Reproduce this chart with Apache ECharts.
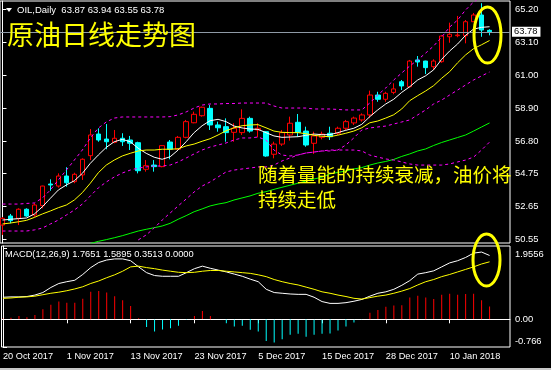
<!DOCTYPE html>
<html><head><meta charset="utf-8">
<script src="https://cdn.jsdelivr.net/npm/echarts@6/dist/echarts.min.js"></script>
<style>html,body{margin:0;padding:0;background:#000;overflow:hidden}#c{width:551px;height:370px}</style>
</head><body><div id="c"></div>
<script>
const dates = ['20 Oct 2017','23 Oct 2017','24 Oct 2017','25 Oct 2017','26 Oct 2017','27 Oct 2017','30 Oct 2017','31 Oct 2017',
'1 Nov 2017','2 Nov 2017','3 Nov 2017','6 Nov 2017','7 Nov 2017','8 Nov 2017','9 Nov 2017','10 Nov 2017',
'13 Nov 2017','14 Nov 2017','15 Nov 2017','16 Nov 2017','17 Nov 2017','20 Nov 2017','21 Nov 2017','22 Nov 2017',
'23 Nov 2017','24 Nov 2017','27 Nov 2017','28 Nov 2017','29 Nov 2017','30 Nov 2017','1 Dec 2017','4 Dec 2017',
'5 Dec 2017','6 Dec 2017','7 Dec 2017','8 Dec 2017','11 Dec 2017','12 Dec 2017','13 Dec 2017','14 Dec 2017',
'15 Dec 2017','18 Dec 2017','19 Dec 2017','20 Dec 2017','21 Dec 2017','22 Dec 2017','26 Dec 2017','27 Dec 2017',
'28 Dec 2017','29 Dec 2017','2 Jan 2018','3 Jan 2018','4 Jan 2018','5 Jan 2018','8 Jan 2018','9 Jan 2018',
'10 Jan 2018','11 Jan 2018','12 Jan 2018','15 Jan 2018','16 Jan 2018','17 Jan 2018'];
const tickLabels = ['20 Oct 2017','1 Nov 2017','13 Nov 2017','23 Nov 2017','5 Dec 2017','15 Dec 2017','28 Dec 2017','10 Jan 2018'];

const opens = [51.44,52.02,51.87,52.45,52.08,52.68,54.06,53.93, 54.57,54.21,54.64,55.87,57.25,56.93,56.72,56.98,
56.87,56.70,55.00,55.27,55.17,56.74,56.28,57.04, 57.97,58.42,58.89,57.83,57.72,57.36,57.34,58.25,
57.51,57.40,55.96,56.61,57.19,58.00,57.44,56.66, 57.04,57.30,57.30,57.62,57.96,58.15,58.47,59.74,
59.47,59.91,60.59,60.27,61.98,61.91,61.55,61.87, 63.46,63.53,63.53,64.42,64.85,63.87];
const closes = [51.87,51.72,52.45,52.02,52.72,53.93,54.00,54.57, 54.14,54.68,55.64,57.19,56.87,56.76,56.98,56.76,
56.66,54.91,55.23,55.17,56.51,56.28,57.04,58.04, 58.51,58.96,57.83,57.65,57.34,57.62,58.25,57.44,
57.62,55.85,56.61,57.34,57.94,57.36,56.55,57.13, 57.25,57.08,57.62,58.04,58.27,58.47,59.74,59.47,
59.85,60.13,60.32,61.91,61.85,61.49,61.91,63.51, 63.62,63.57,64.42,64.85,63.89,63.78];
const lows = [50.81,51.55,51.44,51.97,51.97,52.51,53.63,53.83, 53.89,54.11,54.32,55.59,56.76,56.28,56.66,56.49,
56.23,54.74,54.85,54.85,55.13,55.64,56.23,56.98, 57.94,58.36,57.51,57.40,56.76,56.76,57.19,57.34,
57.04,55.80,55.70,56.49,56.83,57.08,56.44,55.98, 56.91,56.87,57.19,57.51,57.83,58.04,58.27,59.31,
59.31,59.79,60.06,60.23,61.55,61.08,61.34,61.80, 63.08,63.43,63.04,64.40,63.46,63.55];
const highs = [51.95,52.15,52.51,52.51,52.83,53.95,54.36,54.74, 55.13,54.78,55.70,57.57,57.62,57.89,57.51,57.30,
57.13,56.76,55.59,55.59,56.55,56.87,57.13,58.15, 58.68,59.00,59.10,58.04,58.25,57.94,58.83,58.36,
57.94,57.44,56.76,57.51,58.36,58.53,57.72,57.40, 57.40,57.72,57.72,58.15,58.36,58.57,60.02,59.95,
59.95,60.49,60.70,61.98,62.23,61.93,62.02,63.57, 64.36,64.79,64.53,64.98,65.60,63.94];

const ma5 = [51.76,51.81,51.85,51.89,52.15,52.61,53.15,53.68, 54.00,54.27,54.74,55.38,55.91,56.40,56.76,56.91,
56.76,56.34,56.02,55.77,55.64,55.80,56.23,56.76, 57.34,57.78,58.10,58.19,58.04,57.76,57.64,57.57,
57.55,57.34,57.13,57.04,57.06,57.08,57.17,57.25, 57.21,57.21,57.34,57.49,57.62,57.87,58.36,58.79,
59.17,59.47,59.91,60.27,60.70,60.97,61.35,62.02, 62.55,63.00,63.55,63.95,64.06,64.10];
const ma10 = [51.51,51.57,51.65,51.74,51.93,52.15,52.34,52.55, 52.72,53.04,53.51,54.11,54.78,55.27,55.59,55.85,
56.02,56.17,56.23,56.23,56.28,56.28,56.31,56.49, 56.61,56.79,56.95,57.19,57.46,57.65,57.78,57.83,
57.85,57.65,57.44,57.36,57.34,57.34,57.27,57.17, 57.11,57.08,57.18,57.30,57.44,57.65,57.97,58.08,
58.27,58.48,58.85,59.38,59.70,60.00,60.34,60.81, 61.23,61.80,62.30,62.70,62.95,63.22];
const ma60 = [null,null,null,null,null,null,null,null,null,null,null,50.26,50.40,
50.51,50.63,50.76,50.91,51.06,51.17,51.27,51.38,51.55,51.81,
52.04,52.29,52.47,52.66,52.78,52.87,53.04,53.17,53.30,53.47,
53.57,53.72,53.85,53.98,54.11,54.25,54.38,54.49,54.70,54.80,
54.89,55.02,55.11,55.27,55.40,55.50,55.63,55.82,55.98,56.17,
56.30,56.52,56.71,56.87,57.03,57.19,57.44,57.70,57.96];
const bandUpper = [52.78,52.78,52.78,52.82,52.85,53.17,53.68,54.32, 54.95,55.59,56.23,56.99,57.63,58.02,58.27,58.34,
58.34,58.34,58.34,58.34,58.34,58.36,58.47,58.66, 58.91,59.10,59.17,59.17,59.20,59.20,59.23,59.23,
59.23,59.23,59.04,58.91,58.91,58.91,58.91,58.85, 58.85,58.85,58.82,58.79,58.79,58.79,59.23,59.74,
60.19,60.70,61.15,61.59,61.98,62.42,62.87,63.44, 64.08,64.53,65.17,65.68,66.00,66.10];
const bandLowerA = [51.06,51.06,51.06,51.06,51.13,51.25,51.51,51.76, 52.08,52.40,52.78,53.30,53.81,54.19,54.51,54.76,
54.95,55.08,55.15,55.21,55.21,55.27,55.47,55.72, 55.98,56.23,56.42,56.55,56.68,56.87,57.00,57.00,
57.06,56.87,56.23,55.91,55.85,55.91,56.04,56.10, 56.17,56.23,56.23,56.55,57.00,57.51,57.64,57.70,
57.76,57.89,58.02,58.15,58.47,58.79,59.17,59.42, 59.74,60.06,60.38,60.70,60.96,61.21];
const bandLowerB = [null,null,null,null,null,null,null,null,null,null,null,null,null,null,null,null,null,
50.49,50.81,51.25,51.76,52.21,52.66,53.10, 53.55,53.93,54.19,54.51,54.83,54.95,55.02,55.08,
55.15,55.15,55.27,55.53,55.72,55.91,56.04,56.10, 56.17,56.17,56.23,56.23,56.23,56.17,55.91,55.78,
55.66,55.59,55.47,55.34,55.27,55.27,55.27,55.27, 55.34,55.47,55.59,55.78,56.23,56.74];

const macdLine = [0.61,0.62,0.62,0.63,0.67,0.74,0.88,0.99, 1.04,1.08,1.24,1.43,1.57,1.64,1.67,1.67,
1.62,1.45,1.29,1.21,1.19,1.19,1.19,1.29, 1.40,1.47,1.41,1.36,1.31,1.25,1.19,1.11,
1.04,0.83,0.74,0.72,0.70,0.69,0.69,0.61, 0.49,0.44,0.44,0.46,0.50,0.55,0.64,0.72,
0.76,0.83,0.94,1.07,1.25,1.29,1.34,1.45, 1.56,1.62,1.71,1.83,1.86,1.7651];
const signalLine = [0.58,0.59,0.61,0.62,0.64,0.68,0.72,0.75, 0.79,0.84,0.90,0.99,1.06,1.15,1.23,1.33,
1.45,1.47,1.43,1.40,1.36,1.33,1.30,1.29, 1.30,1.33,1.35,1.35,1.33,1.31,1.29,1.27,
1.23,1.18,1.10,1.04,0.99,0.95,0.89,0.83, 0.76,0.72,0.67,0.63,0.58,0.56,0.60,0.64,
0.67,0.72,0.78,0.85,0.95,1.04,1.10,1.18, 1.24,1.31,1.38,1.45,1.53,1.5895];
const macdHist = [0.02,0.04,0.09,0.06,0.12,0.28,0.40,0.49, 0.46,0.46,0.57,0.76,0.78,0.74,0.64,0.53,
0.37,0.03,-0.21,-0.34,-0.28,-0.25,-0.18,-0.02, 0.09,0.23,0.09,0.005,-0.11,-0.20,-0.18,-0.29,
-0.34,-0.60,-0.64,-0.55,-0.43,-0.40,-0.48,-0.43, -0.40,-0.39,-0.31,-0.20,-0.09,-0.02,0.18,0.26,
0.35,0.38,0.39,0.60,0.65,0.60,0.56,0.68, 0.71,0.68,0.70,0.71,0.53,0.3513];

const priceTicks = [65.20,63.10,61.00,58.90,56.80,54.75,52.65,50.55];
const macdTicks = [1.9556,0,-0.766];
const lastPrice = 63.78;
const headerText = 'OIL,Daily  63.87 63.94 63.55 63.78';
const macdText = 'MACD(12,26,9) 1.7651 1.5895 0.3513 0.0000';
const titleText = '原油日线走势图';
const noteLine1 = '随着量能的持续衰减，油价将';
const noteLine2 = '持续走低';

const font = 'Liberation Sans, Arial, sans-serif';
const cjk = 'Noto Sans CJK SC, sans-serif';
// bar index axes: 8 px per trading day, first bar centred on pixel column 1
const xMinMain = -0.3125, xMinMacd = -0.1875, xMax = 63.5625;
const tickIdx = tickLabels.map(d => dates.indexOf(d));
const pairs = arr => arr.map((v, i) => [i, v]);
const candles = opens.map((o, i) => [i, o, closes[i], lows[i], highs[i]]);

function lineS(data, color, dashed, xi) {
  return {type:'line', xAxisIndex:xi, yAxisIndex:xi, data:pairs(data), symbol:'none', showSymbol:false, silent:true,
    z:3, lineStyle:{color:color, width:1, type: dashed ? [3,3] : 'solid'}};
}

const chart = echarts.init(document.getElementById('c'));
chart.setOption({
  backgroundColor:'#000',
  animation:false,
  textStyle:{fontFamily:font},
  grid:[
    {left:-1, top:1, width:511, height:242, show:true, borderColor:'#fff', borderWidth:1},
    {left:0, top:246, width:510, height:101, show:true, borderColor:'#fff', borderWidth:1}
  ],
  xAxis:[
    {type:'value', gridIndex:0, min:xMinMain, max:xMax, show:false, splitLine:{show:false}},
    {type:'value', gridIndex:1, min:xMinMacd, max:xMax,
      axisLine:{show:true, lineStyle:{color:'#fff'}},
      axisTick:{show:true, length:4, lineStyle:{color:'#fff'}, customValues:tickIdx},
      axisLabel:{show:true, align:'left', color:'#fff', fontSize:9.2, margin:5, fontFamily:font,
        customValues:tickIdx, formatter:v => dates[Math.round(v)] || ''},
      splitLine:{show:false}}
  ],
  yAxis:[
    {type:'value', gridIndex:0, position:'right', min:50.295, max:65.743,
      axisLine:{show:true, lineStyle:{color:'#fff'}},
      axisTick:{show:true, length:4, lineStyle:{color:'#fff'}, customValues:priceTicks},
      axisLabel:{show:true, color:'#fff', fontSize:9.4, margin:5, fontFamily:font, customValues:priceTicks,
        formatter:v => Number(v).toFixed(2)},
      splitLine:{show:false}},
    {type:'value', gridIndex:1, position:'right', min:-0.766, max:2.027,
      axisLine:{show:true, lineStyle:{color:'#fff'}},
      axisTick:{show:true, length:4, lineStyle:{color:'#fff'}, customValues:macdTicks},
      axisLabel:{show:true, color:'#fff', fontSize:9.4, margin:5, fontFamily:font, customValues:macdTicks,
        formatter:v => v > 1 ? '{t|' + v.toFixed(4) + '}' : (v < 0 ? '{b|' + v.toFixed(3) + '}' : '0.00'),
        rich:{t:{padding:[11,0,0,0], color:'#fff', fontSize:9.4, fontFamily:font},
              b:{padding:[0,0,12,0], color:'#fff', fontSize:9.4, fontFamily:font}}},
      splitLine:{show:false}}
  ],
  series:[
    {type:'candlestick', xAxisIndex:0, yAxisIndex:0, data:candles, barWidth:5, z:2, silent:true,
      encode:{x:0, y:[1,2,3,4]},
      itemStyle:{color:'#000', color0:'#00ffff', borderColor:'#ff0000', borderColor0:'#00ffff', borderWidth:1},
      markLine:{silent:true, symbol:['none','none'], animation:false,
        lineStyle:{color:'#8f9aa6', type:'solid', width:1},
        label:{show:true, position:'end', distance:2, formatter:lastPrice.toFixed(2), color:'#000',
          backgroundColor:'#fff', padding:[1,3,0,2], fontSize:9.4, fontFamily:font},
        data:[{yAxis:lastPrice}]}},
    lineS(ma5, '#ffffff', false, 0),
    lineS(ma10, '#ffff00', false, 0),
    lineS(ma60, '#00ff00', false, 0),
    lineS(bandUpper, '#ff00ff', true, 0),
    lineS(bandLowerA, '#ff00ff', true, 0),
    lineS(bandLowerB, '#ff00ff', true, 0),
    {type:'bar', xAxisIndex:1, yAxisIndex:1, data:pairs(macdHist), barWidth:1, silent:true, z:2,
      itemStyle:{color:p => p.value[1] >= 0 ? '#ff0000' : '#00ffff'},
      markLine:{silent:true, symbol:['none','none'], animation:false, label:{show:false},
        lineStyle:{color:'#ffffff', type:[3,2], width:1}, data:[{yAxis:0}]}},
    lineS(macdLine, '#ffffff', false, 1),
    lineS(signalLine, '#ffff00', false, 1)
  ],
  graphic:[
    {type:'polygon', z:50, shape:{points:[[6,8],[12,8],[9,12]]}, style:{fill:'#fff'}},
    {type:'text', z:50, x:17, y:10, style:{text:headerText, fill:'#ffffff', font:'9.5px ' + font, textVerticalAlign:'middle'}},
    {type:'text', z:50, x:7, y:35, style:{text:titleText, fill:'#ffff00', font:'27px ' + cjk, textVerticalAlign:'middle'}},
    {type:'text', z:50, x:258, y:175, style:{text:noteLine1, fill:'#ffff00', font:'19.5px ' + cjk, textVerticalAlign:'middle'}},
    {type:'text', z:50, x:258, y:199.5, style:{text:noteLine2, fill:'#ffff00', font:'19.5px ' + cjk, textVerticalAlign:'middle'}},
    {type:'text', z:50, x:5, y:254, style:{text:macdText, fill:'#ffffff', font:'9.3px ' + font, textVerticalAlign:'middle'}},
    {type:'ellipse', z:60, shape:{cx:487.5, cy:35, rx:13.5, ry:28}, style:{fill:'none', stroke:'#ffff00', lineWidth:3}},
    {type:'ellipse', z:60, shape:{cx:486.5, cy:260, rx:13.5, ry:26}, style:{fill:'none', stroke:'#ffff00', lineWidth:3}},
    {type:'rect', z:50, shape:{x:0, y:368, width:551, height:2}, style:{fill:'#c8c8c8'}}
  ]
});
</script>
</body></html>
